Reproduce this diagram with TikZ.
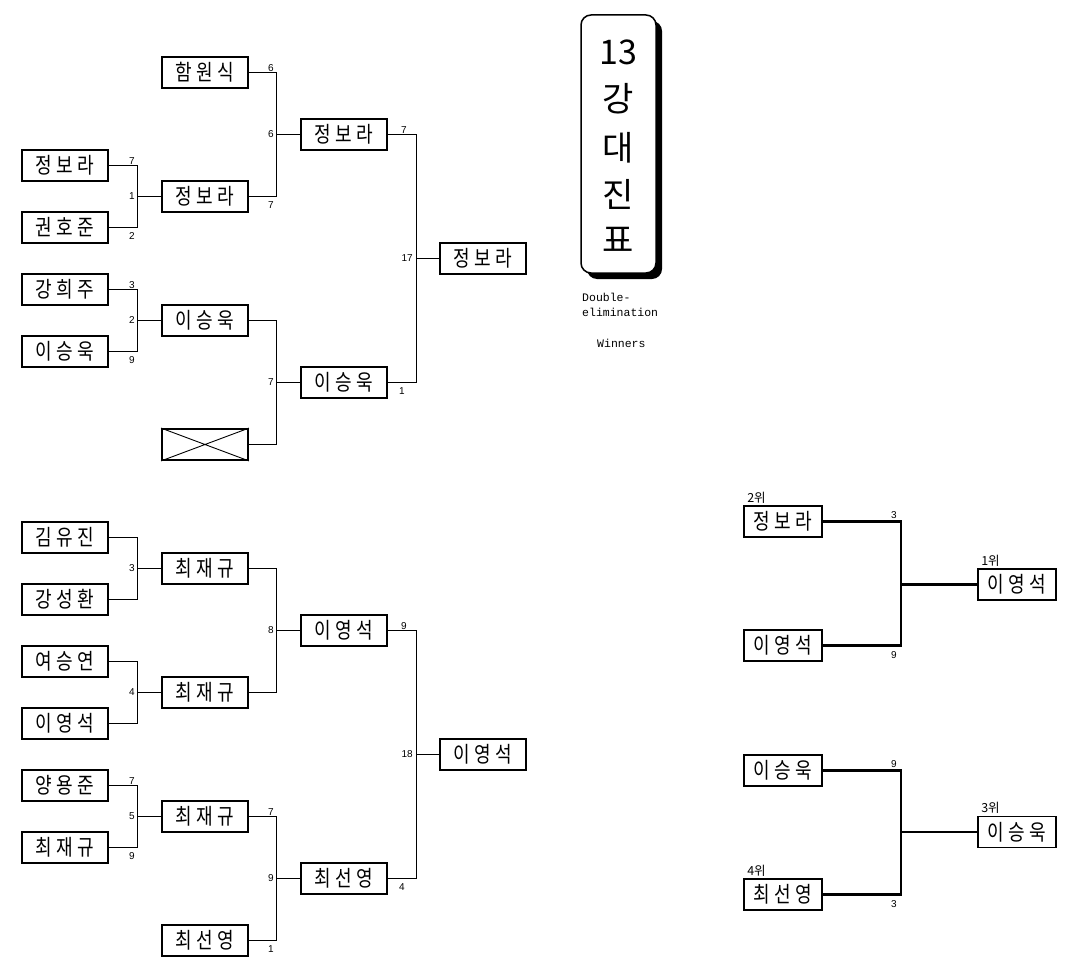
\documentclass[tikz,border=0pt]{standalone}
\usepackage{fontspec}
\setmainfont{Liberation Sans}
\newfontfamily\kr{Noto Sans CJK KR}[FakeStretch=0.82,LetterSpace=20]
\newfontfamily\krt{Noto Sans CJK KR}
\newfontfamily\mono{Liberation Mono}
\newcommand\nm[1]{#1\hspace{-4.4pt}}
\begin{document}
\begin{tikzpicture}[x=1pt,y=-1pt,
  pbox/.style={draw,line width=1.8pt,minimum width=86pt,minimum height=31pt,inner sep=0pt,font=\kr\fontsize{22}{22}\selectfont},
  rbox/.style={pbox,minimum width=78pt},
  ln/.style={line width=0.9pt},
  tk/.style={line width=2.6pt},
  sc/.style={inner sep=0pt,font=\fontsize{10}{10}\selectfont},
  rk/.style={inner sep=0pt,anchor=south west,font=\krt\fontsize{12.5}{12.5}\selectfont},
  tt/.style={inner sep=0pt,font=\krt\fontsize{34}{34}\selectfont},
  ms/.style={inner sep=0pt,anchor=west,font=\mono\fontsize{11.5}{11.5}\selectfont},
]
\useasboundingbox (0,0) rectangle (1076,971);
\fill[white] (0,0) rectangle (1076,971);

% vertical bracket lines
\coordinate (v1) at (137,0);
\coordinate (v2) at (276,0);
\coordinate (v3) at (416,0);
\coordinate (v4) at (901,0);

% ---------- top bracket ----------
\node[pbox] (a0) at (205,72.5) {\nm{함원식}};
\node[pbox] (a2) at (344,134.5) {\nm{정보라}};
\node[pbox] (a3) at (65,165.5) {\nm{정보라}};
\node[pbox] (a4) at (205,196.5) {\nm{정보라}};
\node[pbox] (a5) at (65,227.5) {\nm{권호준}};
\node[pbox] (a6) at (483,258.5) {\nm{정보라}};
\node[pbox] (a7) at (65,289.5) {\nm{강희주}};
\node[pbox] (a8) at (205,320.5) {\nm{이승욱}};
\node[pbox] (a9) at (65,351.5) {\nm{이승욱}};
\node[pbox] (a10) at (344,382.5) {\nm{이승욱}};
\node[pbox] (a12) at (205,444.5) {};
\draw[line width=0.9pt] (a12.north west) -- (a12.south east) (a12.south west) -- (a12.north east);

% a3,a5 -> a4
\draw[ln] (a3.east) -- (a3.east -| v1) -- (a5.east -| v1) -- (a5.east);
\draw[ln] (a4.west) -- (a4.west -| v1);
\node[sc,anchor=south east,xshift=-2pt,yshift=1pt] at (a3.east -| v1) {7};
\node[sc,anchor=north east,xshift=-2pt,yshift=-5pt] at (a5.east -| v1) {2};
\node[sc,anchor=east,xshift=-2pt] at (a4.west -| v1) {1};
% a0,a4 -> a2
\draw[ln] (a0.east) -- (a0.east -| v2) -- (a4.east -| v2) -- (a4.east);
\draw[ln] (a2.west) -- (a2.west -| v2);
\node[sc,anchor=south east,xshift=-2pt,yshift=1pt] at (a0.east -| v2) {6};
\node[sc,anchor=north east,xshift=-2pt,yshift=-5pt] at (a4.east -| v2) {7};
\node[sc,anchor=east,xshift=-2pt] at (a2.west -| v2) {6};
% a7,a9 -> a8
\draw[ln] (a7.east) -- (a7.east -| v1) -- (a9.east -| v1) -- (a9.east);
\draw[ln] (a8.west) -- (a8.west -| v1);
\node[sc,anchor=south east,xshift=-2pt,yshift=1pt] at (a7.east -| v1) {3};
\node[sc,anchor=north east,xshift=-2pt,yshift=-5pt] at (a9.east -| v1) {9};
\node[sc,anchor=east,xshift=-2pt] at (a8.west -| v1) {2};
% a8,a12 -> a10
\draw[ln] (a8.east) -- (a8.east -| v2) -- (a12.east -| v2) -- (a12.east);
\draw[ln] (a10.west) -- (a10.west -| v2);
\node[sc,anchor=east,xshift=-2pt] at (a10.west -| v2) {7};
% a2,a10 -> a6
\draw[ln] (a2.east) -- (a2.east -| v3) -- (a10.east -| v3) -- (a10.east);
\draw[ln] (a6.west) -- (a6.west -| v3);
\node[sc,anchor=south east,xshift=-9pt,yshift=1pt] at (a2.east -| v3) {7};
\node[sc,anchor=north east,xshift=-11pt,yshift=-5pt] at (a10.east -| v3) {1};
\node[sc,anchor=east,xshift=-3pt] at (a6.west -| v3) {17};

% ---------- bottom bracket ----------
\node[pbox] (b15) at (65,537.5) {\nm{김유진}};
\node[pbox] (b16) at (205,568.5) {\nm{최재규}};
\node[pbox] (b17) at (65,599.5) {\nm{강성환}};
\node[pbox] (b18) at (344,630.5) {\nm{이영석}};
\node[pbox] (b19) at (65,661.5) {\nm{여승연}};
\node[pbox] (b20) at (205,692.5) {\nm{최재규}};
\node[pbox] (b21) at (65,723.5) {\nm{이영석}};
\node[pbox] (b22) at (483,754.5) {\nm{이영석}};
\node[pbox] (b23) at (65,785.5) {\nm{양용준}};
\node[pbox] (b24) at (205,816.5) {\nm{최재규}};
\node[pbox] (b25) at (65,847.5) {\nm{최재규}};
\node[pbox] (b26) at (344,878.5) {\nm{최선영}};
\node[pbox] (b28) at (205,940.5) {\nm{최선영}};

% b15,b17 -> b16
\draw[ln] (b15.east) -- (b15.east -| v1) -- (b17.east -| v1) -- (b17.east);
\draw[ln] (b16.west) -- (b16.west -| v1);
\node[sc,anchor=east,xshift=-2pt] at (b16.west -| v1) {3};
% b19,b21 -> b20
\draw[ln] (b19.east) -- (b19.east -| v1) -- (b21.east -| v1) -- (b21.east);
\draw[ln] (b20.west) -- (b20.west -| v1);
\node[sc,anchor=east,xshift=-2pt] at (b20.west -| v1) {4};
% b16,b20 -> b18
\draw[ln] (b16.east) -- (b16.east -| v2) -- (b20.east -| v2) -- (b20.east);
\draw[ln] (b18.west) -- (b18.west -| v2);
\node[sc,anchor=east,xshift=-2pt] at (b18.west -| v2) {8};
% b23,b25 -> b24
\draw[ln] (b23.east) -- (b23.east -| v1) -- (b25.east -| v1) -- (b25.east);
\draw[ln] (b24.west) -- (b24.west -| v1);
\node[sc,anchor=south east,xshift=-2pt,yshift=1pt] at (b23.east -| v1) {7};
\node[sc,anchor=north east,xshift=-2pt,yshift=-5pt] at (b25.east -| v1) {9};
\node[sc,anchor=east,xshift=-2pt] at (b24.west -| v1) {5};
% b24,b28 -> b26
\draw[ln] (b24.east) -- (b24.east -| v2) -- (b28.east -| v2) -- (b28.east);
\draw[ln] (b26.west) -- (b26.west -| v2);
\node[sc,anchor=south east,xshift=-2pt,yshift=1pt] at (b24.east -| v2) {7};
\node[sc,anchor=north east,xshift=-2pt,yshift=-5pt] at (b28.east -| v2) {1};
\node[sc,anchor=east,xshift=-2pt] at (b26.west -| v2) {9};
% b18,b26 -> b22
\draw[ln] (b18.east) -- (b18.east -| v3) -- (b26.east -| v3) -- (b26.east);
\draw[ln] (b22.west) -- (b22.west -| v3);
\node[sc,anchor=south east,xshift=-9pt,yshift=1pt] at (b18.east -| v3) {9};
\node[sc,anchor=north east,xshift=-11pt,yshift=-5pt] at (b26.east -| v3) {4};
\node[sc,anchor=east,xshift=-3pt] at (b22.west -| v3) {18};

% ---------- title ----------
\fill[black,rounded corners=10pt] (587,21) rectangle (662,279);
\node[draw,fill=white,line width=1.5pt,rounded corners=10pt,minimum width=75pt,minimum height=258pt,inner sep=0pt] (title) at (618.5,144) {};
\node[tt] (t1) at (618.5,52) {13};
\node[tt] (t2) at (618.5,99) {강};
\node[tt] (t3) at (618.5,148) {대};
\node[tt] (t4) at (618.5,194) {진};
\node[tt] (t5) at (618.5,240) {표};
\node[ms] (d1) at (582,297) {Double-};
\node[ms] (d2) at (582,312) {elimination};
\node[ms] (d3) at (597,343) {Winners};

% ---------- final (1st/2nd) ----------
\node[rbox] (r1) at (783,521.5) {\nm{정보라}};
\node[rbox] (r2) at (783,645.5) {\nm{이영석}};
\node[rbox] (r3) at (1017,584.5) {\nm{이영석}};
\draw[tk] (r1.east) -- (r1.east -| v4) -- (r2.east -| v4) -- (r2.east);
\draw[tk] (r3.west) -- (r3.west -| v4);
\node[sc,anchor=south east,xshift=-4pt,yshift=3pt] at (r1.east -| v4) {3};
\node[sc,anchor=north east,xshift=-4pt,yshift=-6pt] at (r2.east -| v4) {9};
\node[rk,xshift=4pt,yshift=1.5pt] at (r1.north west) {2위};
\node[rk,xshift=4pt,yshift=1.5pt] at (r3.north west) {1위};

% ---------- 3rd/4th ----------
\node[rbox] (s1) at (783,770.5) {\nm{이승욱}};
\node[rbox] (s2) at (783,894.5) {\nm{최선영}};
\node[rbox] (s3) at (1017,832) {\nm{이승욱}};
\draw[tk] (s1.east) -- (s1.east -| v4) -- (s2.east -| v4) -- (s2.east);
\draw[tk] (s3.west) -- (s3.west -| v4);
\node[sc,anchor=south east,xshift=-4pt,yshift=3pt] at (s1.east -| v4) {9};
\node[sc,anchor=north east,xshift=-4pt,yshift=-6pt] at (s2.east -| v4) {3};
\node[rk,xshift=4pt,yshift=1.5pt] at (s3.north west) {3위};
\node[rk,xshift=4pt,yshift=1.5pt] at (s2.north west) {4위};
\end{tikzpicture}
\end{document}
